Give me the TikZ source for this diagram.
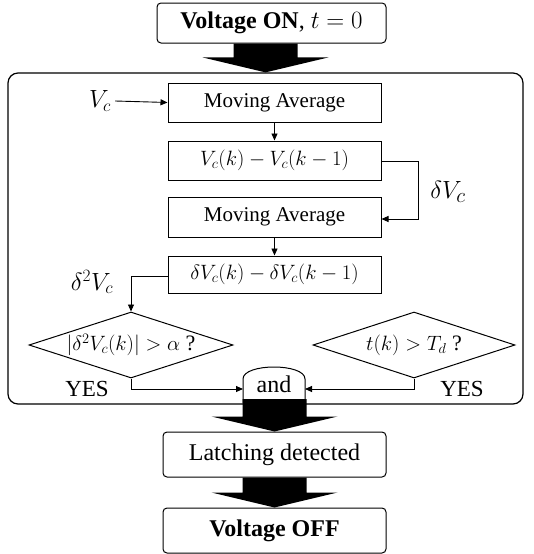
\documentclass[tikz,border=0pt]{standalone}
\usepackage{fontspec}
\setmainfont{Liberation Serif}
\usetikzlibrary{shapes.geometric,arrows.meta,calc}
\newcommand\fatarrow[2]{%
  \path let \p1=(#1), \p2=(#2) in
    [fill=black] (\x2-32pt,\y1) -- (\x2+32pt,\y1) -- (\x2+32pt,\y2+15pt) -- (\x2+63pt,\y2+15pt)
    -- (\x2,\y2) -- (\x2-63pt,\y2+15pt) -- (\x2-32pt,\y2+15pt) -- cycle;}
\begin{document}
\begin{tikzpicture}[x=1pt,y=-1pt,
  box/.style={draw, line width=1pt, minimum width=213pt, inner sep=0pt, font=\fontsize{21}{25}\selectfont},
  rbox/.style={draw, line width=1pt, rounded corners=4pt, minimum width=223pt, minimum height=45pt, inner sep=0pt, font=\fontsize{24}{28}\selectfont},
  dia/.style={draw, diamond, line width=1pt, inner sep=0pt, minimum height=66pt},
  txt/.style={inner sep=0pt, font=\fontsize{22}{26}\selectfont},
  arr/.style={-{Triangle[length=7pt,width=6pt]}, line width=0.9pt},
  ln/.style={line width=0.9pt}]
\useasboundingbox (0,0) rectangle (533,554);

% frame
\node[draw, line width=1.2pt, rounded corners=10pt, minimum width=515pt, minimum height=331pt, inner sep=0pt] (frame) at (265.5,238.5) {};

% top and bottom boxes
\node[rbox, minimum width=229pt, minimum height=40pt] (on) at (271.5,23) {\textbf{Voltage ON}, $t = 0$};
\node[rbox] (latch) at (274.5,454.5) {Latching detected};
\node[rbox] (off) at (274.5,530.5) {\textbf{Voltage OFF}};

% inner boxes
\node[box, minimum height=39pt] (ma1) at (274.5,102.5) {Moving Average};
\node[box, minimum height=39pt] (d1) at (274.5,160.5) {$V_c(k) - V_c(k-1)$};
\node[box, minimum height=40pt] (ma2) at (274.5,217) {Moving Average};
\node[box, minimum height=37pt] (d2) at (274.5,274.5) {$\delta V_c(k) - \delta V_c(k-1)$};

% labels
\node[txt, font=\fontsize{26}{30}\selectfont] (vc) at (100,101) {$V_c$};
\node[txt, font=\fontsize{28}{32}\selectfont] (dvc) at (448,192) {$\delta V_c$};
\node[txt, font=\fontsize{26}{30}\selectfont] (ddvc) at (92,282) {$\delta^2 V_c$};
\node[txt, font=\fontsize{23}{27}\selectfont] (yes1) at (87,389) {YES};
\node[txt, font=\fontsize{23}{27}\selectfont] (yes2) at (462,389) {YES};

% diamonds
\node[dia, minimum width=204pt] (dia1) at (131,345) {};
\node[txt] (t1) at (dia1.center) {$|\delta^2 V_c(k)| > \alpha$ ?};
\node[dia, minimum width=202pt] (dia2) at (414,345) {};
\node[txt] (t2) at (dia2.center) {$t(k) > T_d$ ?};

% and gate
\coordinate (gl) at (243,389);
\coordinate (gr) at (305,389);
\coordinate (gb) at (274,399);
\draw[line width=1pt, fill=white] (243,403) -- (243,379) .. controls (243,363) and (305,363) .. (305,379) -- (305,403);
\node[txt, font=\fontsize{24}{28}\selectfont] (andg) at (274,384) {and};

% connectors
\draw[arr] (vc.east) ++(4pt,0) -- (ma1.west);
\draw[arr] (ma1.south) -- (d1.north);
\coordinate (c1) at (418,161);
\coordinate (c2) at (418,219);
\draw[arr] (d1.east |- c1) -- (c1) -- (c2) -- (ma2.east |- c2);
\draw[arr] (ma2.south) -- (d2.north);
\coordinate (c3) at (131,276);
\draw[arr] (d2.west |- c3) -- (c3) -- (dia1.north);
\coordinate (c4) at (131,389);
\draw[arr] (dia1.south) -- (c4) -- (gl);
\coordinate (c5) at (414,389);
\draw[arr] (dia2.south) -- (c5) -- (gr);

% fat arrows
\fatarrow{on.south}{frame.north}
\fatarrow{gb}{latch.north}
\fatarrow{latch.south}{off.north}
\end{tikzpicture}
\end{document}
